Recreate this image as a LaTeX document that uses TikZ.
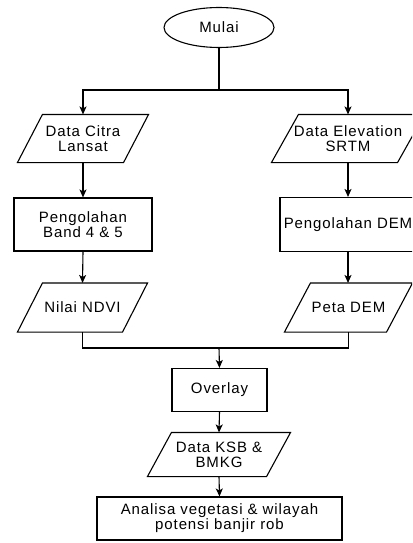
\documentclass[tikz,border=0pt]{standalone}
\usepackage{fontspec}
\setmainfont{Liberation Sans}[LetterSpace=6]
\usetikzlibrary{shapes.geometric,arrows.meta}
\tikzset{
  base/.style={inner sep=0pt, align=center, font=\fontsize{15}{15}\selectfont, line width=1.1pt},
  proc/.style={base, draw, rectangle},
  io/.style={base, rectangle},
  term/.style={base, draw, ellipse},
  conn/.style={line width=1.1pt},
  arr/.style={conn, -{Stealth[length=8pt,width=7pt,inset=2pt]}},
  para/.style={line width=1.1pt}
}
\begin{document}
\begin{tikzpicture}[x=1pt,y=-1pt]
\useasboundingbox (0,0) rectangle (412,543);
\clip (0,0) rectangle (412,543);
\node[term, minimum width=110pt, minimum height=40pt] (mulai) at (219,27.5) {Mulai};
\node[io, minimum width=130pt, minimum height=47pt] (cit) at (83,138.5) {Data Citra\\Lansat};
\node[io, minimum width=152pt, minimum height=47pt] (srtm) at (348,138.5) {Data Elevation\\SRTM};
\node[proc, minimum width=138pt, minimum height=53pt] (band) at (83,224.5) {Pengolahan\\Band 4 \& 5};
\node[proc, minimum width=136pt, minimum height=54pt] (pdem) at (348,224.5) {Pengolahan DEM};
\node[io, minimum width=129pt, minimum height=48pt] (ndvi) at (82.5,307.5) {Nilai NDVI};
\node[io, minimum width=127pt, minimum height=48pt] (peta) at (348.5,307.5) {Peta DEM};
\node[proc, minimum width=95pt, minimum height=43pt] (overlay) at (219.5,390) {Overlay};
\node[io, minimum width=142pt, minimum height=43pt] (ksb) at (219,454.5) {Data KSB \&\\BMKG};
\node[proc, minimum width=245pt, minimum height=43pt] (ana) at (219.5,518.5) {Analisa vegetasi \& wilayah\\potensi banjir rob};
\foreach \n/\s in {cit/25, srtm/27, ndvi/25, peta/26, ksb/24} {
  \draw[para] ([xshift=\s pt]\n.north west) -- (\n.north east) -- ([xshift=-\s pt]\n.south east) -- (\n.south west) -- cycle;
}
\coordinate (j1) at (219,90);
\coordinate (j2) at (219,348);
\draw[conn] (mulai.south) -- (j1);
\draw[arr] (j1) -| (cit.north);
\draw[arr] (j1) -| (srtm.north);
\draw[arr] (cit.south) -- (band.north);
\draw[arr] (srtm.south) -- (pdem.north);
\draw[arr] (band.south) -- (ndvi.north);
\draw[arr] (pdem.south) -- (peta.north -| pdem.south);
\draw[conn] (ndvi.south) |- (j2);
\draw[conn] (peta.south) |- (j2);
\draw[arr] (j2) -- (overlay.north);
\draw[arr] (overlay.south) -- (ksb.north);
\draw[arr] (ksb.south) -- (ana.north);
\end{tikzpicture}
\end{document}
